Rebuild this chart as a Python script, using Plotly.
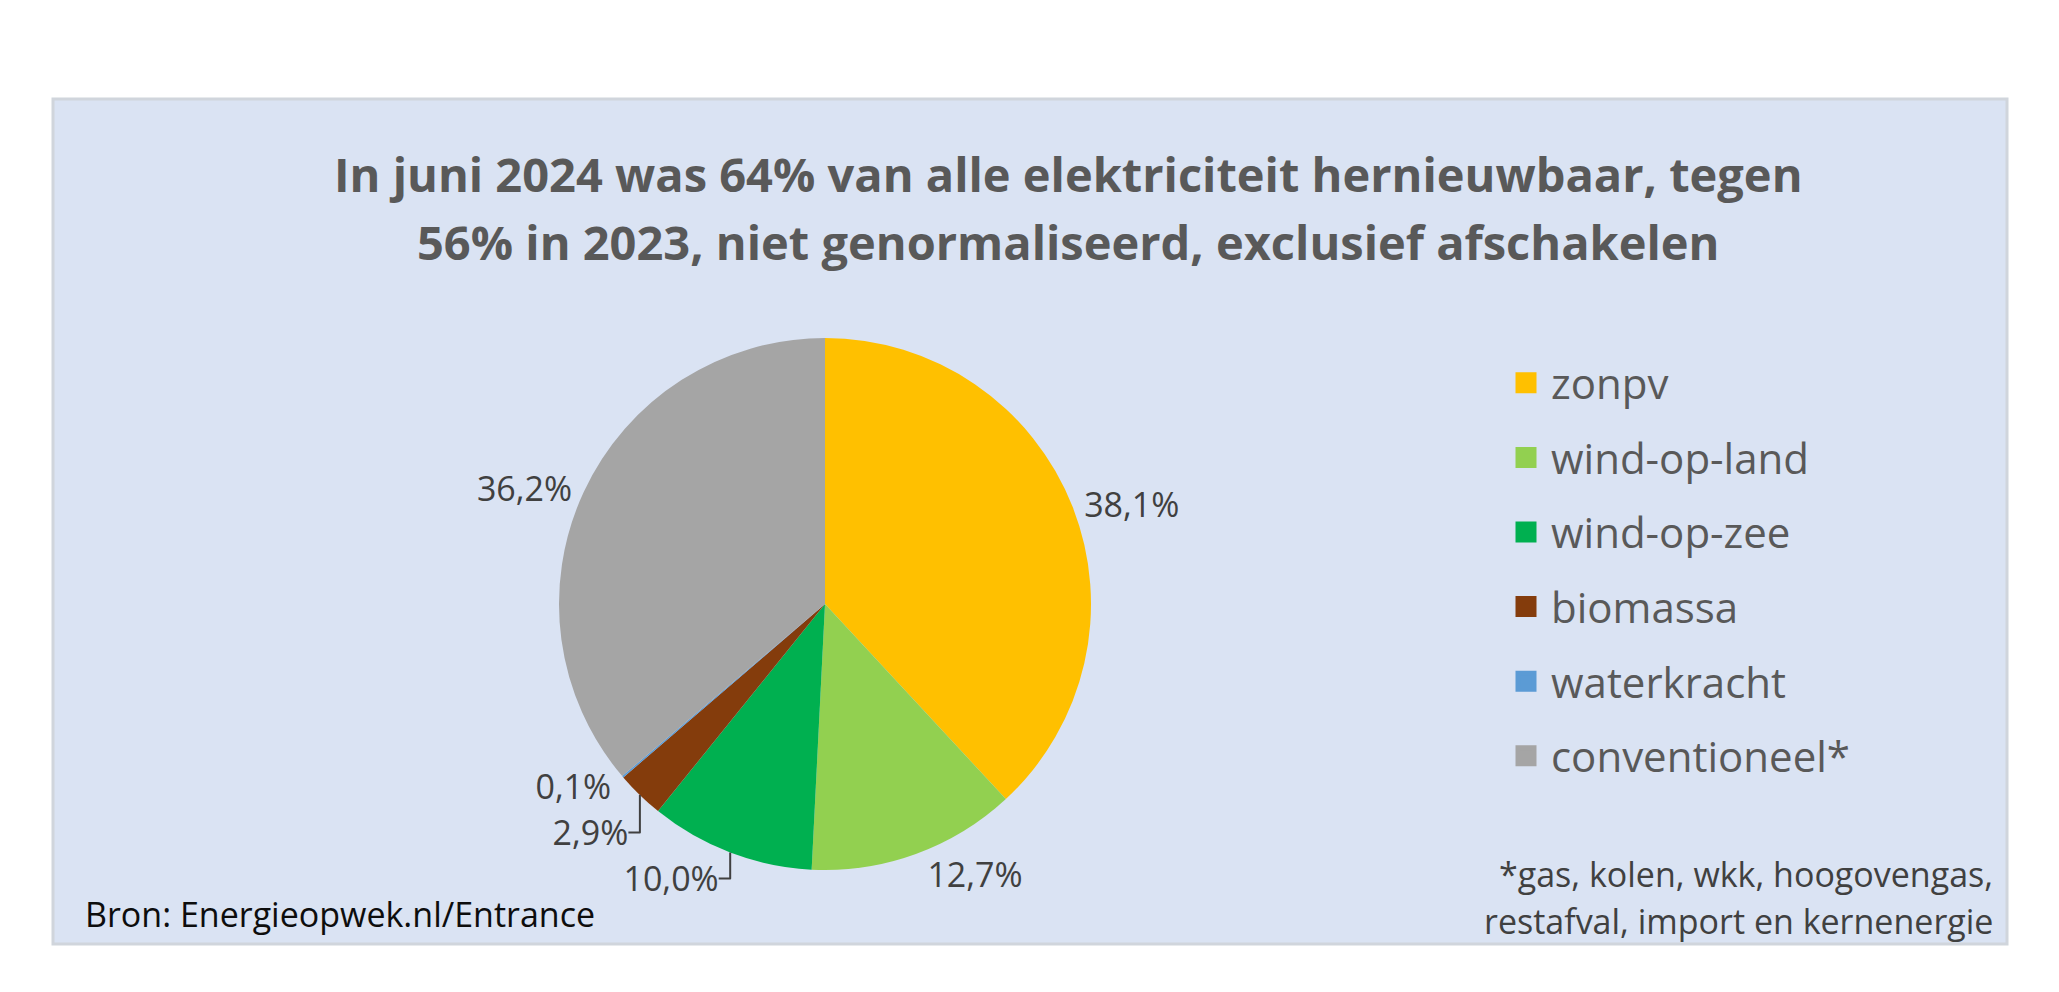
import plotly.graph_objects as go

# Elektriciteitsmix juni 2024 (aandeel in %)
categories = ["zonpv", "wind-op-land", "wind-op-zee", "biomassa", "waterkracht", "conventioneel*"]
shares = [38.1, 12.7, 10.0, 2.9, 0.1, 36.2]
colors = ["#FFC000", "#92D050", "#00B050", "#843C0C", "#5B9BD5", "#A5A5A5"]

title_lines = [
    "In juni 2024 was 64% van alle elektriciteit hernieuwbaar, tegen",
    "56% in 2023, niet genormaliseerd, exclusief afschakelen",
]
source_text = "Bron: Energieopwek.nl/Entrance"
footnote_lines = ["*gas, kolen, wkk, hoogovengas,", "restafval, import en kernenergie"]

W, H = 2059, 992
FONT = "Open Sans"

fig = go.Figure()

# De taart zelf
fig.add_trace(go.Pie(
    labels=categories,
    values=shares,
    sort=False,
    direction="clockwise",
    rotation=0,
    marker=dict(colors=colors, line=dict(width=0)),
    texttemplate="%{percent:.1%}",
    textposition="outside",
    textfont=dict(family=FONT, size=34, color="#404040"),
    showlegend=False,
    hoverinfo="label+percent",
    domain=dict(x=[547 / W, 1087 / W], y=[(H - 862) / H, (H - 330) / H]),
))

# Legenda via lege scatter-traces (zodat de afstand tussen items klopt)
for name, col in zip(categories, colors):
    fig.add_trace(go.Scatter(
        x=[None], y=[None], mode="markers", name=name,
        legendgroup=name,
        marker=dict(symbol="square", size=16, color=col, line=dict(color=col, width=5)),
    ))

# Achtergrondvlak van de grafiek
fig.add_shape(type="rect", xref="paper", yref="paper",
              x0=45 / W, x1=1999 / W, y0=(H - 936) / H, y1=(H - 91) / H,
              fillcolor="#DAE3F3", line=dict(color="#D0D5DC", width=3), layer="below")

# Titel (twee regels)
for i, line in enumerate(title_lines):
    fig.add_annotation(text="<b>" + line + "</b>", xref="paper", yref="paper",
                       x=1060 / W, y=(H - (166 + 68 * i)) / H,
                       xanchor="center", yanchor="middle", showarrow=False,
                       font=dict(family=FONT, size=47, color="#595959"))

fig.add_annotation(text=source_text, xref="paper", yref="paper",
                   x=75 / W, y=(H - 906) / H, xanchor="left", yanchor="middle",
                   showarrow=False, font=dict(family=FONT, size=34, color="#0D0D0D"))

for i, line in enumerate(footnote_lines):
    fig.add_annotation(text=line, xref="paper", yref="paper",
                       x=1987 / W, y=(H - (866 + 47 * i)) / H,
                       xanchor="right", yanchor="middle", showarrow=False,
                       font=dict(family=FONT, size=34, color="#404040"))

fig.update_layout(
    width=W, height=H,
    margin=dict(l=0, r=0, t=0, b=0),
    paper_bgcolor="white",
    plot_bgcolor="rgba(0,0,0,0)",
    separators=",.",
    xaxis=dict(visible=False),
    yaxis=dict(visible=False),
    legend=dict(
        x=1493 / W, y=(H - 341) / H, xanchor="left", yanchor="top",
        bgcolor="rgba(0,0,0,0)",
        font=dict(family=FONT, size=42, color="#595959"),
        tracegroupgap=17,
        itemwidth=40,
    ),
)

fig.write_html("out.html")
